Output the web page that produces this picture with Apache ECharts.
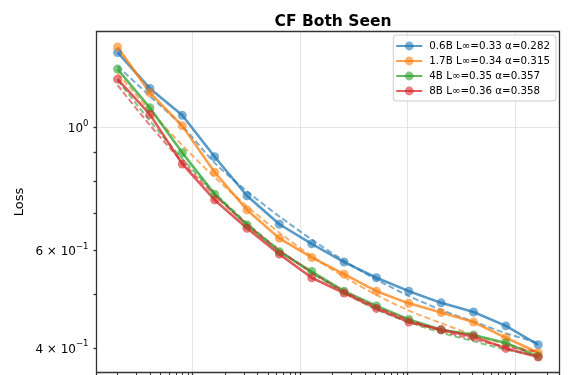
<!DOCTYPE html>
<html>
<head>
<meta charset="utf-8">
<script src="https://cdn.jsdelivr.net/npm/echarts@6/dist/echarts.min.js"></script>
<style>
  html, body { margin: 0; padding: 0; background: #fff; }
  #chart { width: 571px; height: 375px; }
</style>
</head>
<body>
<div id="chart"></div>
<script>
// training steps (x), log scale
const steps = [2, 4, 8, 16, 32, 64, 128, 256, 512, 1024, 2048, 4096, 8192, 16384];

const seriesNames = [
  '0.6B L∞=0.33 α=0.282',
  '1.7B L∞=0.34 α=0.315',
  '4B L∞=0.35 α=0.357',
  '8B L∞=0.36 α=0.358'
];
const colors = ['#1f77b4', '#ff7f0e', '#2ca02c', '#d62728'];

// observed loss
const loss06B = [1.363, 1.174, 1.050, 0.884, 0.752, 0.668, 0.616, 0.571, 0.535, 0.506, 0.482, 0.464, 0.438, 0.405];
const loss17B = [1.395, 1.153, 1.005, 0.829, 0.709, 0.630, 0.582, 0.543, 0.506, 0.481, 0.463, 0.445, 0.417, 0.392];
const loss4B  = [1.272, 1.083, 0.899, 0.757, 0.666, 0.596, 0.549, 0.506, 0.476, 0.450, 0.431, 0.422, 0.408, 0.386];
const loss8B  = [1.220, 1.054, 0.858, 0.739, 0.657, 0.590, 0.535, 0.502, 0.471, 0.445, 0.431, 0.419, 0.399, 0.385];

// fitted curves (dashed)
const fit06B = [1.288, 1.137, 1.004, 0.862, 0.766, 0.690, 0.627, 0.574, 0.531, 0.496, 0.468, 0.446, 0.425, 0.408];
const fit17B = [1.250, 1.071, 0.927, 0.812, 0.720, 0.645, 0.585, 0.537, 0.498, 0.467, 0.443, 0.422, 0.406, 0.393];
const fit4B  = [1.215, 1.026, 0.877, 0.761, 0.671, 0.601, 0.546, 0.503, 0.469, 0.445, 0.426, 0.411, 0.397, 0.387];
const fit8B  = [1.190, 1.008, 0.866, 0.754, 0.668, 0.600, 0.547, 0.506, 0.474, 0.449, 0.429, 0.414, 0.402, 0.393];

// y ticks (log)
const yMajorTicks = [1];
const yMinorTicks = [0.4, 0.5, 0.6, 0.7, 0.8, 0.9, 1];
const yLabelValues = [0.4, 0.6, 1];
const yLabelMant = ['4 × 10', '6 × 10', '10'];
const yLabelExp = ['−1', '−1', '0'];

// x minor ticks (log)
const xMinorTicks = [2, 3, 4, 5, 6, 7, 8, 9, 20, 30, 40, 50, 60, 70, 80, 90,
  200, 300, 400, 500, 600, 700, 800, 900, 2000, 3000, 4000, 5000, 6000, 7000, 8000, 9000, 20000];

const lossSets = [loss06B, loss17B, loss4B, loss8B];
const fitSets = [fit06B, fit17B, fit4B, fit8B];

const chart = echarts.init(document.getElementById('chart'), null, { renderer: 'canvas' });

const xRange = { min: 1.274, max: 25716 };
const yRange = { min: 0.361, max: 1.487 };
const frame = { color: '#333', width: 1.3 };
const font = 'DejaVu Sans';

const series = [];
lossSets.forEach((ys, i) => {
  series.push({
    name: seriesNames[i],
    type: 'line',
    data: steps.map((x, k) => [x, ys[k]]),
    symbol: 'circle',
    symbolSize: 9,
    itemStyle: { color: colors[i], opacity: 0.6 },
    lineStyle: { color: colors[i], width: 2.6, opacity: 0.75 },
    emphasis: { disabled: true }
  });
  series.push({
    name: seriesNames[i] + ' fit',
    type: 'line',
    data: steps.map((x, k) => [x, fitSets[i][k]]),
    showSymbol: false,
    smooth: 0.3,
    itemStyle: { color: colors[i] },
    lineStyle: { color: colors[i], width: 2, opacity: 0.6, type: [6, 3] },
    emphasis: { disabled: true }
  });
});

const option = {
  animation: false,
  backgroundColor: '#fff',
  title: {
    text: 'CF Both Seen',
    left: 328,
    top: 9,
    textAlign: 'center',
    textStyle: { fontFamily: font, fontSize: 15.5, fontWeight: 'bold', color: '#000' }
  },
  legend: {
    data: seriesNames,
    orient: 'vertical',
    right: 15,
    top: 35,
    padding: [6, 6, 5, 2],
    itemWidth: 26,
    itemHeight: 11,
    itemGap: 5,
    backgroundColor: 'rgba(255,255,255,0.8)',
    borderColor: '#ccc',
    borderWidth: 1,
    borderRadius: 3,
    textStyle: { fontFamily: font, fontSize: 10.3, color: '#000', padding: [0, 0, 0, 2] }
  },
  grid: { left: 96.5, right: 11.7, top: 31.5, bottom: 2.5, containLabel: false },
  xAxis: [
    {
      type: 'log', logBase: 10, min: xRange.min, max: xRange.max,
      axisLine: { show: true, lineStyle: frame },
      axisTick: { show: true, inside: false, length: 4, lineStyle: frame },
      axisLabel: { show: false },
      splitLine: { show: true, lineStyle: { color: '#e5e5e5', width: 1 } }
    },
    {
      type: 'log', logBase: 10, min: xRange.min, max: xRange.max, position: 'bottom',
      axisLine: { show: false },
      axisTick: { show: true, inside: false, length: 2.5, customValues: xMinorTicks, lineStyle: { color: '#333', width: 1 } },
      axisLabel: { show: false },
      splitLine: { show: false }
    },
    {
      type: 'log', logBase: 10, min: xRange.min, max: xRange.max, position: 'top',
      axisLine: { show: true, lineStyle: frame },
      axisTick: { show: false }, axisLabel: { show: false }, splitLine: { show: false }
    }
  ],
  yAxis: [
    {
      type: 'log', logBase: 10, min: yRange.min, max: yRange.max, position: 'left',
      name: 'Loss', nameLocation: 'middle', nameGap: 70, nameRotate: 90,
      nameMoveOverlap: false,
      nameTextStyle: { fontFamily: font, fontSize: 13, color: '#000' },
      axisLine: { show: true, lineStyle: frame },
      axisTick: { show: true, inside: false, length: 3, customValues: yMinorTicks, lineStyle: frame },
      axisLabel: {
        show: true,
        customValues: yLabelValues,
        margin: 8,
        formatter: function (v) {
          const k = yLabelValues.findIndex(t => Math.abs(t - v) < 1e-6);
          if (k < 0) return '';
          return '{m|' + yLabelMant[k] + '}{e|' + yLabelExp[k] + '}';
        },
        rich: {
          m: { fontFamily: font, fontSize: 12, color: '#000', verticalAlign: 'bottom', lineHeight: 16 },
          e: { fontFamily: font, fontSize: 8.5, color: '#000', verticalAlign: 'top', lineHeight: 16 }
        }
      },
      splitLine: { show: false }
    },
    {
      type: 'log', logBase: 10, min: yRange.min, max: yRange.max, position: 'right',
      axisLine: { show: true, lineStyle: frame },
      axisTick: { show: false, customValues: yMajorTicks },
      axisLabel: { show: false },
      splitLine: { show: true, lineStyle: { color: '#e5e5e5', width: 1 } }
    }
  ],
  series: series
};

chart.setOption(option);
</script>
</body>
</html>
